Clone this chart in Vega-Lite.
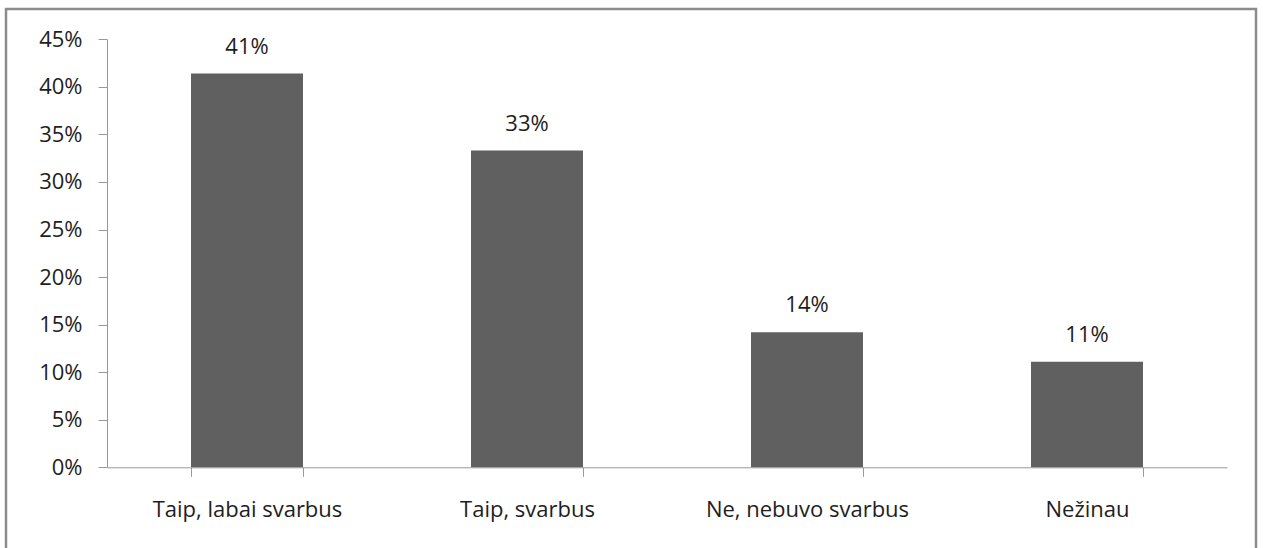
{
  "$schema": "https://vega.github.io/schema/vega-lite/v6.json",
  "autosize": {"type": "none"},
  "padding": {"left": 6, "top": 9, "right": 7, "bottom": -4},
  "width": 1250,
  "height": 543,
  "background": "white",
  "config": {
    "view": {"stroke": "#8c8c8c", "strokeWidth": 2.5},
    "font": "Open Sans"
  },
  "data": {
    "values": [
      {"category": "Taip, labai svarbus", "value": 0.414, "label": "41%"},
      {"category": "Taip, svarbus", "value": 0.333, "label": "33%"},
      {"category": "Ne, nebuvo svarbus", "value": 0.142, "label": "14%"},
      {"category": "Nežinau", "value": 0.111, "label": "11%"}
    ]
  },
  "encoding": {
    "x": {
      "field": "category",
      "type": "nominal",
      "sort": null,
      "scale": {"range": [101, 1221], "paddingInner": 0.6, "paddingOuter": 0.3},
      "axis": {
        "title": null,
        "offset": -84.7,
        "labelAngle": 0,
        "labelFont": "Open Sans",
        "labelFontSize": 22,
        "labelColor": "#1e1e1e",
        "labelPadding": 23,
        "labelLimit": 400,
        "tickBand": "extent",
        "tickSize": 9,
        "tickColor": "#999999",
        "domainColor": "#999999",
        "grid": false
      }
    },
    "y": {
      "field": "value",
      "type": "quantitative",
      "scale": {"domain": [0, 0.45], "range": [458.3, 30.3], "nice": false, "zero": true},
      "axis": {
        "title": null,
        "offset": -101,
        "values": [0, 0.05, 0.1, 0.15, 0.2, 0.25, 0.3, 0.35, 0.4, 0.45],
        "format": ".0%",
        "labelFont": "Open Sans",
        "labelFontSize": 22,
        "labelColor": "#1e1e1e",
        "labelPadding": 16,
        "tickSize": 9,
        "tickColor": "#999999",
        "domainColor": "#999999",
        "grid": false
      }
    }
  },
  "layer": [
    {"mark": {"type": "bar", "color": "#606060"}},
    {
      "mark": {"type": "text", "baseline": "alphabetic", "dy": -20, "font": "Open Sans", "fontSize": 22, "color": "#1e1e1e"},
      "encoding": {"text": {"field": "label"}}
    }
  ]
}
